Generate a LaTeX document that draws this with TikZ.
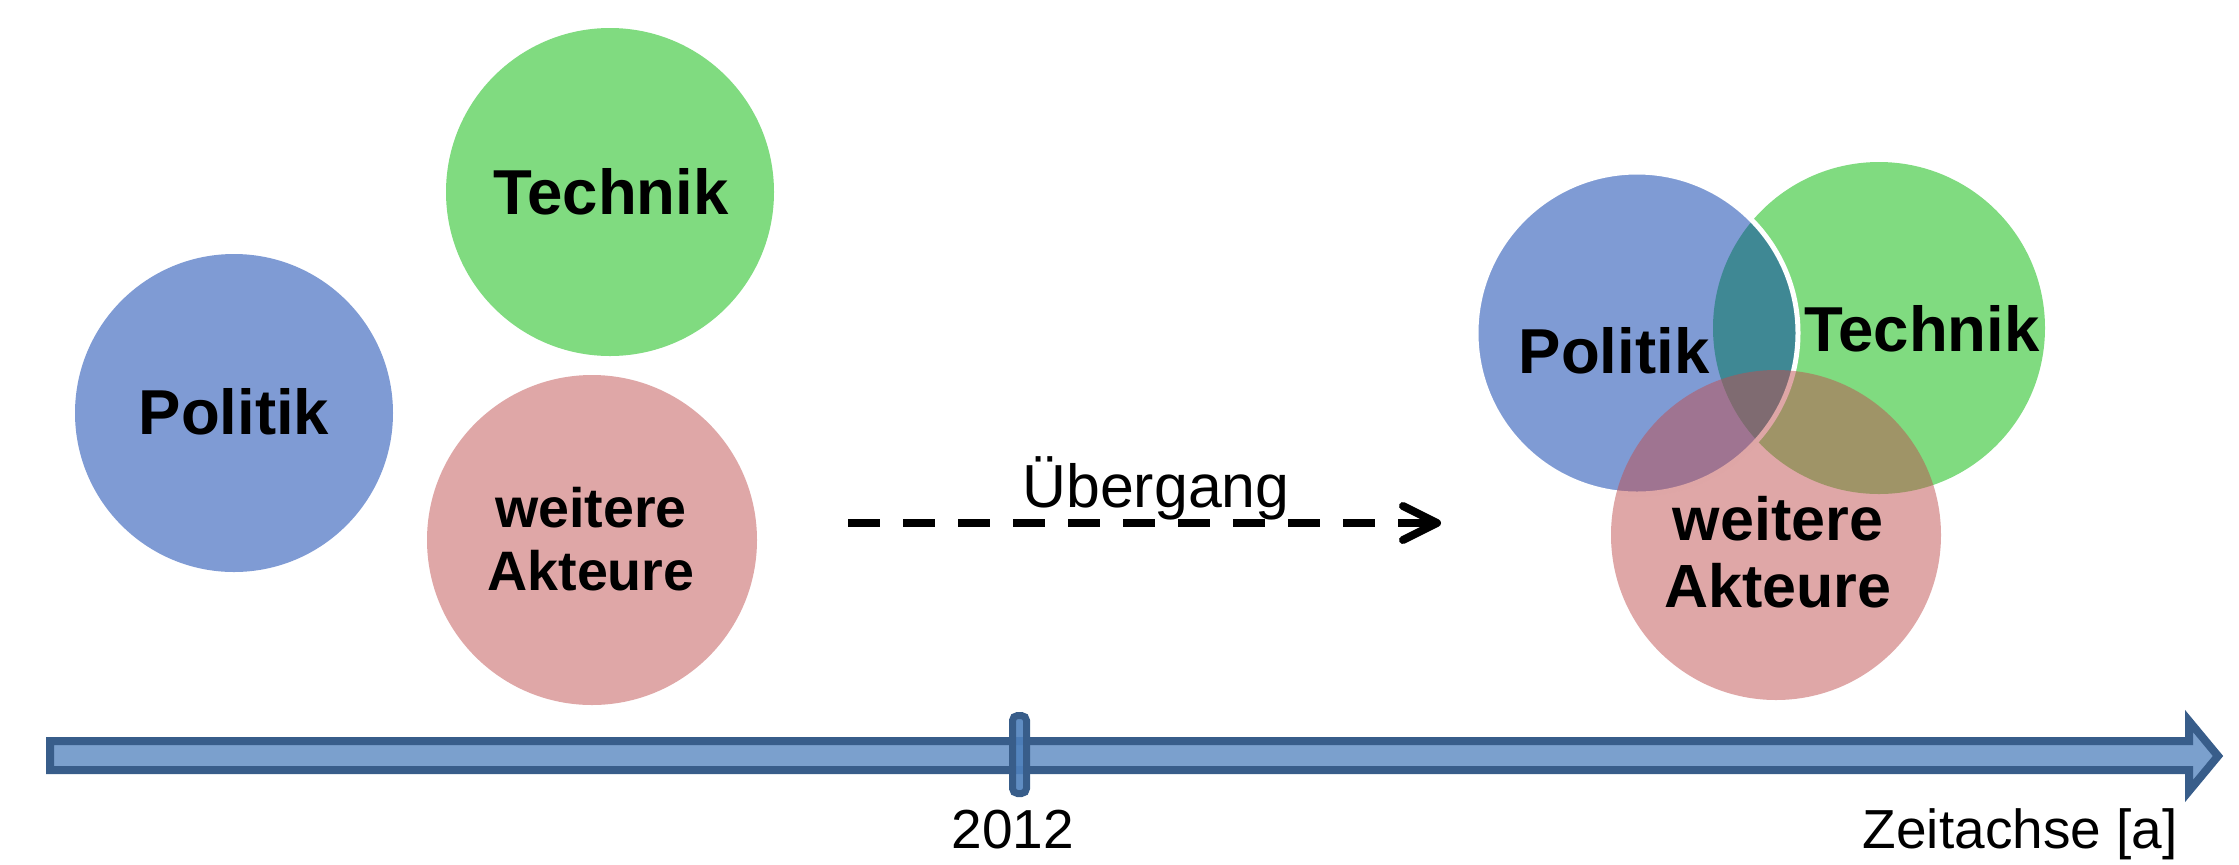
\documentclass[tikz,border=0pt]{standalone}
\usepackage{fontspec}
\setmainfont{Liberation Sans}
\definecolor{bluebase}{RGB}{0,55,169}
\definecolor{greenbase}{RGB}{1,183,1}
\definecolor{pinkbase}{RGB}{191,79,79}
\definecolor{axisfill}{RGB}{123,160,205}
\definecolor{axisdraw}{RGB}{56,93,138}
\definecolor{tickfill}{RGB}{79,129,189}
\begin{document}
\begin{tikzpicture}[x=0.5pt,y=-0.5pt,
  venn/.style={circle, inner sep=0pt, outer sep=0pt, fill opacity=0.5, draw=none},
  biglab/.style={font=\bfseries\fontsize{31.75}{38}\selectfont, anchor=base, inner sep=0pt, text=black},
  wlabL/.style={font=\bfseries\fontsize{27.8}{33}\selectfont, anchor=base, inner sep=0pt, text=black},
  wlabR/.style={font=\bfseries\fontsize{30.5}{36}\selectfont, anchor=base, inner sep=0pt, text=black},
  axlab/.style={font=\fontsize{27.5}{33}\selectfont, inner sep=0pt, text=black},
  dashline/.style={line width=4pt, dash pattern=on 16pt off 11.5pt, black},
  chevron/.style={line width=4pt, line cap=round, line join=round, black},
  axisstyle/.style={line width=4pt, draw=axisdraw, fill=axisfill, line join=miter},
  tickstyle/.style={rectangle, rounded corners=2.5pt, minimum width=7pt, minimum height=39pt, inner sep=0pt, line width=3.5pt, draw=axisdraw, fill=tickfill, fill opacity=0.9}
]
\useasboundingbox (0,0) rectangle (2239,864);

% left group
\node[venn, fill=bluebase, minimum size=159pt] (lp) at (234,413) {};
\node[venn, fill=greenbase, minimum size=164pt] (lt) at (610,192) {};
\node[venn, fill=pinkbase, minimum size=165pt] (lw) at (592,540) {};
\node[biglab] (tlp) at (234,434) {Politik};
\node[biglab] (tlt) at (611,214) {Technik};
\node[wlabL] (tlw1) at (591,527) {weitere};
\node[wlabL] (tlw2) at (591,590) {Akteure};

% right group
\node[venn, fill=greenbase, minimum size=166pt] (rt) at (1879,328) {};
\node[venn, fill=bluebase, minimum size=161pt, draw=white, draw opacity=1, line width=2.5pt] (rp) at (1637,333) {};
\node[venn, fill=pinkbase, minimum size=165pt] (rw) at (1776,535) {};
\node[biglab] (trp) at (1614,373) {Politik};
\node[biglab] (trt) at (1922,351) {Technik};
\node[wlabR] (trw1) at (1778,540) {weitere};
\node[wlabR] (trw2) at (1778,607) {Akteure};

% transition arrow
\node[font=\fontsize{30.4}{36}\selectfont, anchor=base, inner sep=0pt] (ue) at (1156,507) {Übergang};
\coordinate (da) at (848,523);
\coordinate (db) at (1434,523);
\coordinate (dtip) at (1437,523);
\draw[dashline] (da) -- (db);
\draw[chevron] ([shift={(-34,-17)}]dtip) -- (dtip) -- ([shift={(-34,17)}]dtip);

% time axis
\coordinate (axtip) at (2218,756);
\draw[axisstyle] (50,741) -- (2189,741) -- (2189,721) -- (axtip) -- (2189,791) -- (2189,770) -- (50,770) -- cycle;
\node[tickstyle] (tick) at (1019.5,754.5) {};
\node[axlab, anchor=base] (y2012) at (1013,848) {2012};
\node[axlab, anchor=base east] (za) at (2178,848) {Zeitachse [a]};
\end{tikzpicture}
\end{document}
